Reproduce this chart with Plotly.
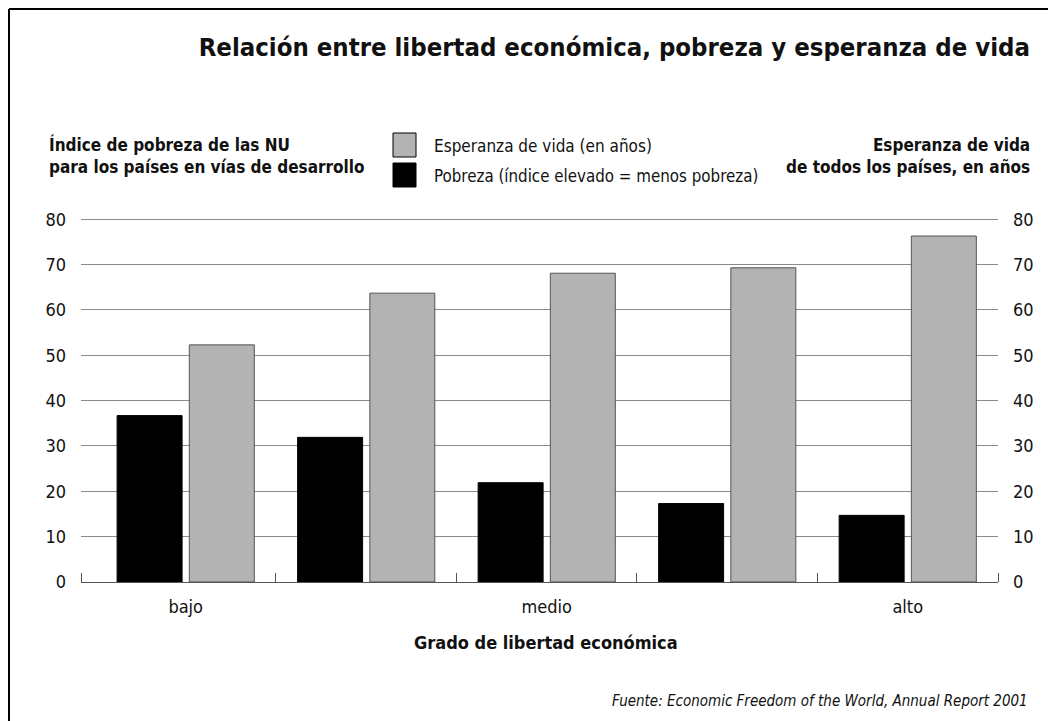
"""Relación entre libertad económica, pobreza y esperanza de vida."""
import plotly.graph_objects as go

# Data
grupos = [0, 1, 2, 3, 4]
etiquetas_x = ["bajo", "medio", "alto"]
posiciones_etiquetas = [0, 2, 4]
pobreza = [36.7, 31.9, 21.9, 17.3, 14.7]
esperanza = [52.3, 63.7, 68.1, 69.3, 76.3]
ticks_y = [0, 10, 20, 30, 40, 50, 60, 70, 80]
limites_grupos = [-0.58, 0.5, 1.5, 2.5, 3.5, 4.5]

FONT = "Liberation Sans Narrow, DejaVu Sans Condensed, Arial Narrow, sans-serif"
INK = "#111111"
GRIS = "#b3b3b3"

# The page body adds an 8px margin, so the figure is laid out 8px up/left.
OFF = 8
W, H = 1056, 721
Y_TOP = 80.5  # a bit above 80 so that the top grid line is not clipped
# 0 sits at y=582 and 80 at y=219 in the window
PLOT_H = round(363 * Y_TOP / 80)
L, R, B = 81 - OFF, 58 + OFF, 139 + OFF
T = H - B - PLOT_H
PW, PH = W - L - R, H - T - B


def px(x):
    return (x - OFF - L) / PW


def py(y):
    return (H - B - (y - OFF)) / PH


fig = go.Figure()

fig.add_trace(go.Bar(
    x=grupos, y=pobreza, name="Pobreza (índice elevado = menos pobreza)",
    marker={"color": "black", "line": {"color": "black", "width": 1}},
    offsetgroup="pobreza", yaxis="y",
))
fig.add_trace(go.Bar(
    x=grupos, y=esperanza, name="Esperanza de vida (en años)",
    marker={"color": GRIS, "line": {"color": "#555555", "width": 1}},
    offsetgroup="esperanza", yaxis="y2",
))

fig.update_layout(
    width=W, height=H,
    margin={"l": L, "r": R, "t": T, "b": B, "pad": 0},
    paper_bgcolor="white", plot_bgcolor="white",
    font={"family": FONT, "color": INK, "size": 18},
    showlegend=False,
    barmode="group", bargap=0.2, bargroupgap=0.1,
    xaxis={
        "range": [-0.58, 4.5],
        "tickvals": posiciones_etiquetas, "ticktext": etiquetas_x,
        "ticks": "", "showgrid": False, "zeroline": False,
        "showline": True, "linecolor": "#555555", "linewidth": 1,
        "tickfont": {"size": 18}, "ticklabelstandoff": 8,
        "minor": {"tickvals": limites_grupos, "ticks": "inside", "ticklen": 9,
                  "tickcolor": "#555555", "tickwidth": 1, "showgrid": False},
    },
    yaxis={
        "range": [0, Y_TOP], "tickvals": ticks_y, "ticks": "",
        "showgrid": True, "gridcolor": "#8a8a8a", "gridwidth": 1,
        "zeroline": False, "showline": False,
        "tickfont": {"size": 18}, "ticklabelstandoff": 14,
    },
    yaxis2={
        "range": [0, Y_TOP], "tickvals": ticks_y, "ticks": "",
        "overlaying": "y", "side": "right",
        "showgrid": False, "zeroline": False, "showline": False,
        "tickfont": {"size": 18}, "ticklabelstandoff": 14,
    },
)

fig.update_layout(title={
    "text": "<b>Relación entre libertad económica, pobreza y esperanza de vida</b>",
    "font": {"size": 25.5, "family": FONT, "color": INK},
    "x": (1030 - OFF) / W, "xanchor": "right",
    "y": 1 - (47 - OFF) / H, "yanchor": "middle",
})

annotations = [
    {"text": "<b>Índice de pobreza de las NU<br>para los países en vías de desarrollo</b>",
     "x": px(47), "y": py(156), "xanchor": "left", "yanchor": "middle",
     "align": "left", "font": {"size": 17}},
    {"text": "<b>Esperanza de vida<br>de todos los países, en años</b>",
     "x": px(1032), "y": py(156), "xanchor": "right", "yanchor": "middle",
     "align": "right", "font": {"size": 17}},
    {"text": "Esperanza de vida (en años)",
     "x": px(432), "y": py(146), "xanchor": "left", "yanchor": "middle",
     "font": {"size": 17}},
    {"text": "Pobreza (índice elevado = menos pobreza)",
     "x": px(432), "y": py(176), "xanchor": "left", "yanchor": "middle",
     "font": {"size": 16.8}},
    {"text": "<b>Grado de libertad económica</b>",
     "x": px(546), "y": py(642), "xanchor": "center", "yanchor": "middle",
     "font": {"size": 18}},
    {"text": "<i>Fuente: Economic Freedom of the World, Annual Report 2001</i>",
     "x": px(1030), "y": py(701), "xanchor": "right", "yanchor": "middle",
     "font": {"size": 15}},
]
for a in annotations:
    fig.add_annotation(xref="paper", yref="paper", showarrow=False, **a)

# Legend swatches and the frame lines of the original figure
fig.add_shape(type="rect", xref="paper", yref="paper",
              x0=px(393), x1=px(416), y0=py(157), y1=py(133),
              fillcolor=GRIS, line={"color": "black", "width": 1})
fig.add_shape(type="rect", xref="paper", yref="paper",
              x0=px(393), x1=px(416), y0=py(187), y1=py(163),
              fillcolor="black", line={"color": "black", "width": 1})
fig.add_shape(type="line", xref="paper", yref="paper",
              x0=px(9), x1=px(W + 20), y0=py(9), y1=py(9),
              line={"color": "black", "width": 2})
fig.add_shape(type="line", xref="paper", yref="paper",
              x0=px(9), x1=px(9), y0=py(9), y1=py(H + 20),
              line={"color": "black", "width": 2})

fig.write_html("out.html")
